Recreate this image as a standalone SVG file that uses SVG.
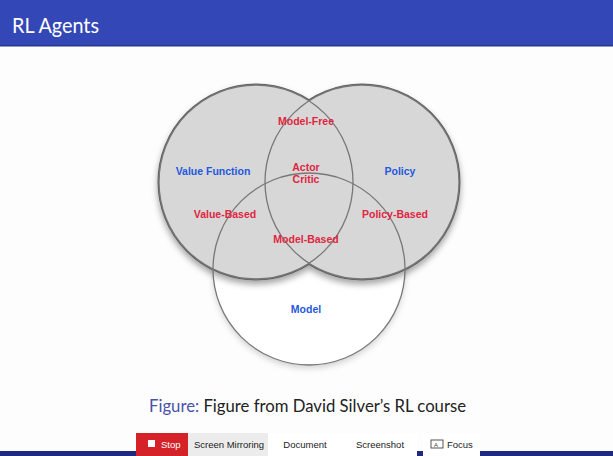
<svg xmlns="http://www.w3.org/2000/svg" width="613" height="456" viewBox="0 0 613 456">
<defs>
<style>
.lbl{font-family:"Liberation Sans",Arial,sans-serif;font-weight:bold;font-size:10.5px;text-anchor:middle}
.red{fill:#e0253f}
.blue{fill:#2459dc}
.btn{font-family:"Liberation Sans",Arial,sans-serif;font-size:9.5px;fill:#222;text-anchor:middle}
.thin{fill:none;stroke:#777;stroke-width:1.3}
</style>
<filter id="sh" x="-20%" y="-20%" width="140%" height="150%">
<feDropShadow dx="0" dy="4" stdDeviation="3" flood-color="#000" flood-opacity="0.35"/>
</filter>
<filter id="sh2" x="-20%" y="-20%" width="140%" height="150%">
<feDropShadow dx="0" dy="3" stdDeviation="3" flood-color="#000" flood-opacity="0.18"/>
</filter>
</defs>
<rect width="613" height="456" fill="#fdfdfd"/>
<g id="header">
<rect x="0" y="0" width="613" height="46" fill="#3348b6"/>
<rect x="0" y="45" width="613" height="1.5" fill="#28388f"/>
<text x="12" y="33" font-family="Lato,'DejaVu Sans',sans-serif" font-size="22" fill="#fff" textLength="87" lengthAdjust="spacingAndGlyphs">RL Agents</text>
</g>
<g id="venn">
<circle id="model" cx="309" cy="269" r="96" fill="#fff" filter="url(#sh2)"/>
<g filter="url(#sh)">
<circle cx="256" cy="182" r="97" fill="#d7d7d7" stroke="#5e5e5e" stroke-width="3"/>
<circle cx="362" cy="182" r="97" fill="#d7d7d7" stroke="#5e5e5e" stroke-width="3"/>
</g>
<circle cx="256" cy="182" r="97" fill="#d7d7d7"/>
<circle cx="362" cy="182" r="97" fill="#d7d7d7"/>
<circle class="thin" cx="256" cy="182" r="97"/>
<circle class="thin" cx="362" cy="182" r="97"/>
<circle class="thin" cx="309" cy="269" r="96"/>
</g>
<g id="labels">
<text class="lbl red" x="306" y="125">Model-Free</text>
<text class="lbl red" x="306" y="171">Actor</text>
<text class="lbl red" x="306" y="183">Critic</text>
<text class="lbl blue" x="213" y="175">Value Function</text>
<text class="lbl blue" x="400" y="175">Policy</text>
<text class="lbl red" x="225" y="218">Value-Based</text>
<text class="lbl red" x="395" y="218">Policy-Based</text>
<text class="lbl red" x="306" y="243">Model-Based</text>
<text class="lbl blue" x="306" y="313">Model</text>
</g>
<g id="caption">
<text x="149" y="412" font-family="Lato,'DejaVu Sans',sans-serif" font-size="17" fill="#222" textLength="317" lengthAdjust="spacingAndGlyphs"><tspan fill="#4a52a8">Figure:</tspan> Figure from David Silver’s RL course</text>
</g>
<g id="footer">
<rect x="0" y="451" width="613" height="5" fill="#1e2a80"/>
</g>
<g id="toolbar">
<rect x="136" y="433" width="52" height="23" fill="#d42228"/>
<rect x="148" y="440" width="7" height="7" fill="#fff"/>
<text x="161" y="447.5" font-family="'Liberation Sans',Arial,sans-serif" font-size="9.5" fill="#fff">Stop</text>
<rect x="188" y="433" width="80" height="23" fill="#ececec"/>
<text class="btn" x="229" y="447.5">Screen Mirroring</text>
<rect x="268" y="433" width="149" height="23" fill="#fff"/>
<text class="btn" x="305" y="447.5">Document</text>
<text class="btn" x="380" y="447.5">Screenshot</text>
<rect x="423" y="433" width="57" height="23" fill="#fff"/>
<rect x="431" y="440" width="12" height="8" fill="none" stroke="#444" stroke-width="0.9"/>
<text x="434" y="446.5" font-family="'Liberation Sans',Arial,sans-serif" font-size="6" fill="#444">A</text>
<text x="447" y="447.5" font-family="'Liberation Sans',Arial,sans-serif" font-size="9.5" fill="#222">Focus</text>
</g>
</svg>
